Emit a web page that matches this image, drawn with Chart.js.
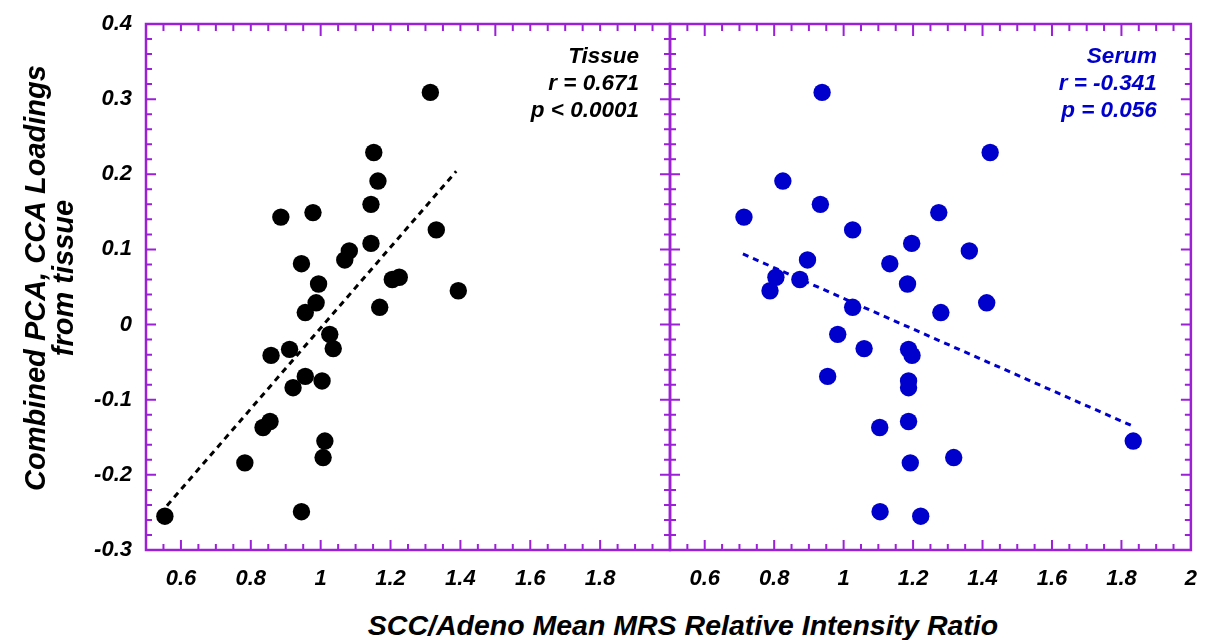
<!DOCTYPE html>
<html>
<head>
<meta charset="utf-8">
<script src="https://cdn.jsdelivr.net/npm/chart.js@4.4.1/dist/chart.umd.min.js"></script>
<style>
html,body{margin:0;padding:0;background:#fff;}
#wrap{position:relative;width:1205px;height:640px;overflow:hidden;background:#fff;}
#cL{position:absolute;left:0;top:0;}
#cR{position:absolute;left:660px;top:0;}
.axTitle{position:absolute;text-align:center;font:italic bold 28.5px 'Liberation Sans',Arial,sans-serif;color:#000;white-space:nowrap;}
#xTitle{left:183px;width:1000px;top:609px;}
#yTitle{left:-171px;top:250px;width:440px;height:56px;line-height:28px;font-size:29px;transform:rotate(-90deg);transform-origin:50% 50%;}
</style>
</head>
<body>
<div id="wrap">
  <canvas id="cL" width="680" height="600"></canvas>
  <canvas id="cR" width="545" height="600"></canvas>
  <div id="yTitle" class="axTitle">Combined PCA, CCA Loadings<br>from tissue</div>
  <div id="xTitle" class="axTitle">SCC/Adeno Mean MRS Relative Intensity Ratio</div>
</div>
<script>
// loadings (y) shared by both panels, x = tissue / serum ratio for the same case
const yLoadings  = [0.309,0.229,0.191,0.160,0.149,0.143,0.126,0.108,0.098,0.086,0.081,0.063,0.060,0.054,0.045,0.029,0.023,0.016,-0.013,-0.032,-0.033,-0.041,-0.069,-0.075,-0.084,-0.129,-0.137,-0.155,-0.177,-0.184,-0.249,-0.255];
const tissueRatio = [1.314,1.152,1.164,1.144,0.978,0.886,1.331,1.144,1.082,1.069,0.945,1.225,1.205,0.994,1.394,0.987,1.169,0.956,1.026,1.036,0.911,0.858,0.956,1.004,0.921,0.855,0.835,1.012,1.007,0.783,0.945,0.554];
const serumRatio  = [0.938,1.422,0.825,0.933,1.274,0.713,1.026,1.196,1.362,0.896,1.133,0.805,0.874,1.184,0.788,1.412,1.026,1.280,0.983,1.059,1.187,1.197,0.954,1.187,1.187,1.187,1.104,1.834,1.317,1.192,1.105,1.222];

// regression lines (end points)
const tissueFitX = [0.56,1.388];
const tissueFitY = [-0.241,0.204];
const serumFitX  = [0.71,1.832];
const serumFitY  = [0.094,-0.135];

const xTicksTissue = [0.6,0.8,1,1.2,1.4,1.6,1.8];
const xTicksSerum  = [0.6,0.8,1,1.2,1.4,1.6,1.8,2];
const yTicks = [-0.3,-0.2,-0.1,0,0.1,0.2,0.3,0.4];

const tissueNote = ['Tissue','r = 0.671','p < 0.0001'];
const serumNote  = ['Serum','r = -0.341','p = 0.056'];

const FONT = "'Liberation Sans', Arial, sans-serif";
const PURPLE = '#9c20d6';
const BLUE = '#0000cc';

function fmt(v){ return String(+(+v).toFixed(2)); }

// frame + inward ticks on all four sides
function tickRun(ctx, scale, step, majorStep, cb){
  const n0 = Math.round(scale.min/step), n1 = Math.round(scale.max/step);
  for(let i=n0+1;i<n1;i++){
    const v=i*step, r=v/majorStep;
    cb(scale.getPixelForValue(v), Math.abs(r-Math.round(r))<1e-6);
  }
}
const framePlugin = {
  id:'frame',
  afterDraw(chart,args,o){
    const {ctx, chartArea:a, scales} = chart;
    ctx.save();
    ctx.strokeStyle = PURPLE;
    ctx.lineWidth = 2;
    ctx.beginPath();
    tickRun(ctx, scales.x, 0.05, 0.2, (p,maj)=>{ ctx.moveTo(p,a.bottom); ctx.lineTo(p,a.bottom-(maj?10:6)); });
    tickRun(ctx, scales.x, 0.05, o.topMajor, (p,maj)=>{ ctx.moveTo(p,a.top); ctx.lineTo(p,a.top+(maj?12:7)); });
    tickRun(ctx, scales.y, 0.02, 0.1, (p,maj)=>{
      ctx.moveTo(a.left,p); ctx.lineTo(a.left+(maj?10:6),p);
      ctx.moveTo(a.right,p); ctx.lineTo(a.right-(maj?10:6),p);
    });
    ctx.stroke();
    ctx.lineWidth = 2.5;
    ctx.strokeRect(a.left,a.top,a.right-a.left,a.bottom-a.top);
    // stats text
    ctx.fillStyle = o.color;
    ctx.font = 'italic bold 22.5px '+FONT;
    ctx.textAlign = 'right';
    ctx.textBaseline = 'middle';
    o.lines.forEach((t,i)=>ctx.fillText(t, a.right-o.right, a.top+33+i*27));
    ctx.restore();
  }
};

function makeChart(id, xs, fitX, fitY, color, xTicks, opts){
  const pts = xs.map((x,i)=>({x:x, y:yLoadings[i]}));
  const fit = fitX.map((x,i)=>({x:x, y:fitY[i]}));
  return new Chart(document.getElementById(id), {
    type:'scatter',
    data:{datasets:[
      {type:'scatter', data:pts, backgroundColor:color, borderWidth:0, pointRadius:8.7, pointHoverRadius:8.7, order:0},
      {type:'line', data:fit, borderColor:color, borderWidth:3, borderDash:[6,5], pointRadius:0, fill:false, order:1}
    ]},
    options:{
      responsive:false, animation:false, events:[],
      layout:{padding:{top:24, left:opts.padLeft, right:opts.padRight, bottom:0}},
      plugins:{legend:{display:false}, tooltip:{enabled:false},
        frame:{topMajor:opts.topMajor, color:color, lines:opts.note, right:opts.noteRight}},
      scales:{
        x:{type:'linear', min:0.5, max:2.0,
          afterBuildTicks:s=>{ s.ticks = xTicks.map(v=>({value:v})); },
          afterFit:s=>{ s.height = 50; },
          grid:{display:false}, border:{display:false},
          ticks:{color:'#000', padding:8, maxRotation:0, autoSkip:false, font:{family:FONT, size:22, style:'italic', weight:'bold'}, callback:v=>fmt(v)}},
        y:{type:'linear', min:-0.3, max:0.4, display:opts.showY,
          afterBuildTicks:s=>{ s.ticks = yTicks.map(v=>({value:v})); },
          afterFit:s=>{ s.width = opts.showY ? 146 : 0; },
          grid:{display:false}, border:{display:false},
          ticks:{color:'#000', padding:6, font:{family:FONT, size:22, style:'italic', weight:'bold'}, callback:v=>fmt(v)}}
      }
    },
    plugins:[framePlugin]
  });
}

makeChart('cL', tissueRatio, tissueFitX, tissueFitY, '#000000', xTicksTissue,
  {padLeft:0, padRight:10, topMajor:0.5, showY:true, note:tissueNote, noteRight:31});
makeChart('cR', serumRatio, serumFitX, serumFitY, BLUE, xTicksSerum,
  {padLeft:10, padRight:8, topMajor:0.2, showY:false, note:serumNote, noteRight:34});
</script>
</body>
</html>
